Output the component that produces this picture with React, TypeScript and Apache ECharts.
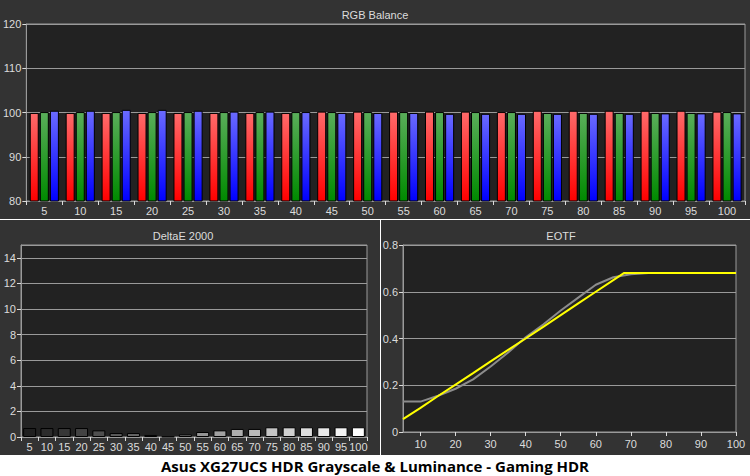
import React, { useEffect, useRef } from 'react';
import * as echarts from 'echarts';

const categories = ['5', '10', '15', '20', '25', '30', '35', '40', '45', '50', '55', '60', '65', '70', '75', '80', '85', '90', '95', '100'];
const redValues = [99.9, 99.9, 99.9, 99.9, 99.9, 99.9, 99.9, 99.9, 100.2, 100.2, 100.2, 100.2, 100.2, 100.1, 100.4, 100.4, 100.4, 100.4, 100.4, 100.2];
const greenValues = [100.1, 100.1, 100.1, 100.1, 100.1, 100.1, 100.1, 100.1, 100.1, 100.1, 100.1, 100.1, 100.1, 100.1, 99.9, 99.9, 99.9, 99.9, 99.9, 100.1];
const blueValues = [100.4, 100.4, 100.6, 100.6, 100.4, 100.2, 100.2, 100.1, 99.9, 99.9, 99.9, 99.7, 99.7, 99.7, 99.7, 99.7, 99.7, 99.8, 99.8, 99.8];

const deltaE = [0.7, 0.7, 0.7, 0.7, 0.52, 0.31, 0.31, 0.16, 0.03, 0.2, 0.39, 0.52, 0.63, 0.63, 0.76, 0.76, 0.76, 0.76, 0.76, 0.76];

const targetStimulus = [5, 10, 15, 20, 25, 30, 35, 40, 45, 50, 55, 60, 65, 68, 70, 75, 80, 85, 90, 95, 100];
const targetLuminance = [0.055, 0.103, 0.154, 0.203, 0.252, 0.302, 0.351, 0.4, 0.45, 0.5, 0.55, 0.6, 0.65, 0.68, 0.68, 0.68, 0.68, 0.68, 0.68, 0.68, 0.68];
const measuredStimulus = [5, 10, 15, 20, 25, 30, 35, 40, 45, 50, 55, 60, 65, 70, 75, 80, 85, 90, 95, 100];
const measuredLuminance = [0.13, 0.13, 0.155, 0.185, 0.225, 0.28, 0.34, 0.405, 0.46, 0.52, 0.575, 0.63, 0.662, 0.675, 0.68, 0.68, 0.68, 0.68, 0.68, 0.68];

const eotfTicks = [10, 20, 30, 40, 50, 60, 70, 80, 90, 100];

const FONT = 'Liberation Sans';
const LABEL = '#dcdcdc';
const GRIDLINE = '#9a9a9a';

function grad(top: string, bottom: string) {
  return new echarts.graphic.LinearGradient(0, 0, 0, 1, [
    { offset: 0, color: top },
    { offset: 1, color: bottom },
  ]);
}

export default function App() {
  const ref = useRef<HTMLDivElement>(null);
  useEffect(() => {
    if (!ref.current) return;
    const chart = echarts.init(ref.current, null, { renderer: 'svg' });
    const axisLabel = { color: LABEL, fontFamily: FONT, fontSize: 11 };
    const catAxisCommon = {
      type: 'category' as const,
      data: categories,
      boundaryGap: true,
      axisLine: { show: true, lineStyle: { color: GRIDLINE } },
      axisTick: { show: true, interval: 0, length: 4, alignWithLabel: false, lineStyle: { color: LABEL } },
      axisLabel: { ...axisLabel, interval: 0, margin: 4 },
      splitLine: { show: false },
    };
    const barBase = {
      type: 'bar' as const,
      barWidth: 9,
      barGap: '12%',
      clip: true,
      xAxisIndex: 0,
      yAxisIndex: 0,
    };
    chart.setOption({
      animation: false,
      backgroundColor: '#333333',
      grid: [
        { left: 26, top: 24, width: 719, height: 177, show: true, backgroundColor: '#222222', borderColor: GRIDLINE, borderWidth: 1 },
        { left: 21, top: 245, width: 346, height: 192, show: true, backgroundColor: '#222222', borderColor: GRIDLINE, borderWidth: 1 },
        { left: 403, top: 245, width: 333, height: 187, show: true, backgroundColor: '#222222', borderColor: GRIDLINE, borderWidth: 1 },
      ],
      xAxis: [
        { ...catAxisCommon, gridIndex: 0 },
        { ...catAxisCommon, gridIndex: 1 },
        {
          type: 'value',
          gridIndex: 2,
          min: 5,
          max: 100,
          axisLine: { show: true, lineStyle: { color: GRIDLINE } },
          axisTick: { show: true, length: 4, customValues: eotfTicks, lineStyle: { color: LABEL } },
          axisLabel: { ...axisLabel, margin: 6, customValues: eotfTicks },
          splitLine: { show: false },
        },
      ],
      yAxis: [
        {
          type: 'value', gridIndex: 0, min: 80, max: 120, interval: 10,
          axisLine: { show: true, lineStyle: { color: GRIDLINE } },
          axisTick: { show: true, length: 4, lineStyle: { color: LABEL } },
          axisLabel: { ...axisLabel, margin: 5 },
          splitLine: { show: true, lineStyle: { color: GRIDLINE, width: 1 } },
        },
        {
          type: 'value', gridIndex: 1, min: 0, max: 15, interval: 2,
          axisLine: { show: true, lineStyle: { color: GRIDLINE } },
          axisTick: { show: true, length: 4, lineStyle: { color: LABEL } },
          axisLabel: { ...axisLabel, margin: 5, showMaxLabel: false },
          splitLine: { show: true, lineStyle: { color: GRIDLINE, width: 1 } },
        },
        {
          type: 'value', gridIndex: 2, min: 0, max: 0.8, interval: 0.2,
          axisLine: { show: true, lineStyle: { color: GRIDLINE } },
          axisTick: { show: true, length: 4, lineStyle: { color: LABEL } },
          axisLabel: { ...axisLabel, margin: 5, formatter: (v: number) => (v === 0 ? '0' : v.toFixed(1)) },
          splitLine: { show: true, lineStyle: { color: GRIDLINE, width: 1 } },
        },
      ],
      series: [
        { ...barBase, name: 'Red', data: redValues, itemStyle: { color: grad('#ff6a6a', '#ff0000'), borderColor: '#000', borderWidth: 1 } },
        { ...barBase, name: 'Green', data: greenValues, itemStyle: { color: grad('#5aae5a', '#008a00'), borderColor: '#000', borderWidth: 1 } },
        { ...barBase, name: 'Blue', data: blueValues, itemStyle: { color: grad('#6a6aff', '#0000ff'), borderColor: '#000', borderWidth: 1 } },
        {
          type: 'bar',
          name: 'DeltaE',
          xAxisIndex: 1,
          yAxisIndex: 1,
          barWidth: 13,
          clip: true,
          data: deltaE,
          itemStyle: {
            borderColor: '#000',
            borderWidth: 1,
            color: (p: any) => {
              const c = Number(categories[p.dataIndex]);
              const g = Math.round(Math.min(255, 20 + (c / 100) * 235));
              const hex = g.toString(16).padStart(2, '0');
              return '#' + hex + hex + hex;
            },
          },
        },
        {
          type: 'line',
          name: 'Measured',
          xAxisIndex: 2,
          yAxisIndex: 2,
          data: measuredStimulus.map((x, i) => [x, measuredLuminance[i]]),
          showSymbol: false,
          symbol: 'none',
          lineStyle: { color: '#8c8c8c', width: 2 },
          z: 3,
        },
        {
          type: 'line',
          name: 'Target',
          xAxisIndex: 2,
          yAxisIndex: 2,
          data: targetStimulus.map((x, i) => [x, targetLuminance[i]]),
          showSymbol: false,
          symbol: 'none',
          lineStyle: { color: '#ffff00', width: 2 },
          z: 4,
        },
      ],
      graphic: [
        { type: 'rect', shape: { x: 0, y: 219, width: 750, height: 1 }, style: { fill: '#ffffff' }, silent: true },
        { type: 'rect', shape: { x: 380, y: 219, width: 1, height: 257 }, style: { fill: '#ffffff' }, silent: true },
        { type: 'rect', shape: { x: 0, y: 455, width: 750, height: 21 }, style: { fill: '#ffffff' }, silent: true },
        { type: 'text', x: 375, y: 15, style: { text: 'RGB Balance', fill: LABEL, font: `11px "${FONT}"`, align: 'center', verticalAlign: 'middle' } },
        { type: 'text', x: 183, y: 236, style: { text: 'DeltaE 2000', fill: LABEL, font: `11px "${FONT}"`, align: 'center', verticalAlign: 'middle' } },
        { type: 'text', x: 561, y: 236, style: { text: 'EOTF', fill: LABEL, font: `11px "${FONT}"`, align: 'center', verticalAlign: 'middle' } },
        { type: 'text', x: 375, y: 466, style: { text: 'Asus XG27UCS HDR Grayscale & Luminance - Gaming HDR', fill: '#000000', font: 'bold 15px "Open Sans"', align: 'center', verticalAlign: 'middle' } },
      ],
    });
    return () => chart.dispose();
  }, []);
  return <div ref={ref} style={{ position: 'fixed', left: 0, top: 0, width: 750, height: 476 }} />;
}
